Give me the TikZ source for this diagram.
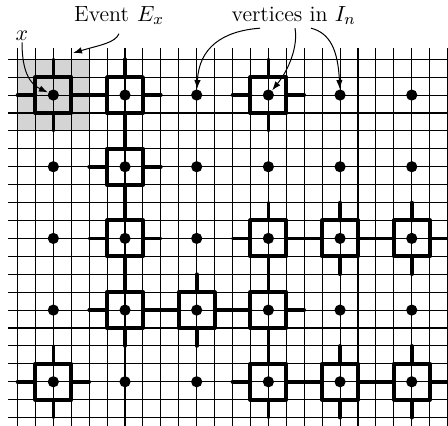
\documentclass[tikz,border=0pt]{standalone}
\usetikzlibrary{arrows.meta}
\begin{document}
\begin{tikzpicture}[x=0.5pt,y=-0.5pt,
  gridline/.style={line width=0.55pt,black},
  sq/.style={line width=2pt,line join=round,line cap=round},
  arm/.style={line width=1.8pt,line cap=round},
  dot/.style={circle,fill=black,inner sep=0pt,minimum size=5.6pt},
  lbl/.style={inner sep=0pt,font=\fontsize{11}{13}\selectfont},
  pointer/.style={line width=0.5pt,-{Latex[length=4.5pt,width=3.2pt]}}]
\useasboundingbox (0,0) rectangle (448,425);
\begin{scope}[shift={(17.5,59.2)},x=8.96pt,y=-8.96pt]
  \fill[black!17] (0,0) rectangle (4,4);
  \foreach \k in {0,...,24} \draw[gridline] (\k,-0.63) -- (\k,20.6);
  \foreach \j in {0,...,20} \draw[gridline] (-0.53,\j) -- (24.6,\j);
  \foreach \i/\j in {0/0,1/0,3/0,1/1,1/2,3/2,4/2,5/2,1/3,2/3,3/3,0/4,3/4,4/4,5/4}{
    \draw[sq] ({4*\i+1},{4*\j+1}) rectangle ({4*\i+3},{4*\j+3});
    \draw[arm] ({4*\i+2},{4*\j}) -- ({4*\i+2},{4*\j+1});
    \draw[arm] ({4*\i+2},{4*\j+3}) -- ({4*\i+2},{4*\j+4});
    \draw[arm] ({4*\i},{4*\j+2}) -- ({4*\i+1},{4*\j+2});
    \draw[arm] ({4*\i+3},{4*\j+2}) -- ({4*\i+4},{4*\j+2});
  }
  \foreach \i in {0,...,5}{
    \foreach \j in {0,...,4}{
      \node[dot] (d\i\j) at ({4*\i+2},{4*\j+2}) {};
    }
  }
\end{scope}
\node[lbl,anchor=base] (xl) at (22,40) {$x$};
\node[lbl,anchor=base] (ev) at (119,21) {Event\hspace{0.5pt} $E_x$};
\node[lbl,anchor=base] (vi) at (293.7,21.5) {vertices in $I_n$};
\coordinate (evtip) at (73,53);
\draw[pointer] ([yshift=-1pt]xl.south) .. controls (22,72) and (30,84) .. (d00);
\draw[pointer] ([yshift=-4.5pt]ev.south) .. controls (115,43) and (100,45) .. (evtip);
\draw[pointer] ([xshift=-16.85pt,yshift=-1.5pt]vi.south) .. controls (222,31) and (199,48) .. (d20);
\draw[pointer] ([xshift=0.65pt,yshift=-1.5pt]vi.south) .. controls (298,45) and (290,68) .. (d30);
\draw[pointer] ([xshift=8.65pt,yshift=-1.5pt]vi.south) .. controls (330,33) and (338,50) .. (d40);
\end{tikzpicture}
\end{document}
